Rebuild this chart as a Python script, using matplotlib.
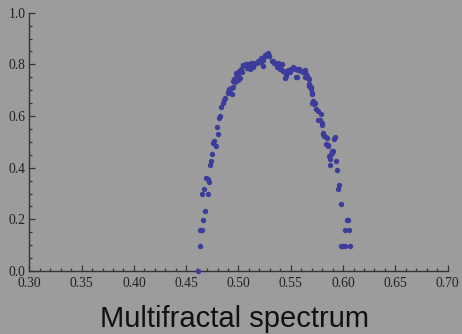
import numpy as np
import matplotlib
matplotlib.use("Agg")
import matplotlib.pyplot as plt
from matplotlib.ticker import MultipleLocator, FormatStrFormatter

# alpha (x) and f(alpha) (y)
alpha = [
    0.4613, 0.4632, 0.4628, 0.4648, 0.4661, 0.4680, 0.4651, 0.4711, 0.4670,
    0.4692, 0.4705, 0.4721, 0.4730, 0.4740, 0.4750, 0.4759, 0.4782, 0.4769,
    0.4801, 0.4792, 0.4811, 0.4823, 0.4833, 0.4849, 0.4861, 0.4871, 0.4903,
    0.4912, 0.4919, 0.4935, 0.4950, 0.4966, 0.4976, 0.4989, 0.4998, 0.5014,
    0.5031, 0.5046, 0.5072, 0.5078, 0.5110, 0.5126, 0.5148, 0.5174, 0.5205,
    0.5222, 0.5231, 0.5237, 0.5253, 0.5275, 0.5294, 0.5317, 0.5342, 0.5365,
    0.5371, 0.5397, 0.5413, 0.5428, 0.5454, 0.5454, 0.5476, 0.5492, 0.5524,
    0.5540, 0.5556, 0.5556, 0.5581, 0.5614, 0.5614, 0.5636, 0.5636, 0.5652,
    0.5667, 0.5674, 0.5690, 0.5700, 0.5705, 0.5715, 0.5700, 0.5731, 0.5725,
    0.5741, 0.5757, 0.5786, 0.5763, 0.5779, 0.5795, 0.5795, 0.5805, 0.5811,
    0.5817, 0.5837, 0.5843, 0.5916, 0.5923, 0.5837, 0.5853, 0.5859, 0.5897,
    0.5906, 0.5884, 0.5897, 0.5865, 0.5875, 0.5935, 0.5875, 0.5945, 0.5966,
    0.5954, 0.5977, 0.6034, 0.6050, 0.6021, 0.6056, 0.5983, 0.6002, 0.6015,
    0.6069,
    # extra points in the dense top band
    0.5279, 0.5256, 0.5295, 0.5215, 0.5225, 0.5184, 0.5152, 0.5120, 0.5098,
    0.5072, 0.5046, 0.5136, 0.5110, 0.5024, 0.5008, 0.4992, 0.4976, 0.4960,
    0.4945, 0.4928, 0.4912, 0.4897, 0.5327, 0.5352, 0.5375, 0.5390, 0.5406,
    0.5422, 0.5454, 0.5470, 0.5502, 0.5518, 0.5550, 0.5566, 0.5598, 0.5629,
    0.5645, 0.5448, 0.5550, 0.5661, 0.5677, 0.5677, 0.5693,
]
f_alpha = [
    0.000, 0.098, 0.158, 0.158, 0.199, 0.231, 0.299, 0.299, 0.317,
    0.359, 0.356, 0.346, 0.409, 0.426, 0.453, 0.494, 0.484, 0.504,
    0.530, 0.556, 0.591, 0.600, 0.636, 0.649, 0.662, 0.669, 0.694,
    0.703, 0.688, 0.684, 0.714, 0.733, 0.765, 0.752, 0.739, 0.748,
    0.772, 0.798, 0.801, 0.785, 0.798, 0.789, 0.801, 0.806, 0.810,
    0.823, 0.795, 0.817, 0.832, 0.840, 0.832, 0.814, 0.806, 0.801,
    0.789, 0.781, 0.801, 0.775, 0.768, 0.755, 0.772, 0.772, 0.791,
    0.782, 0.781, 0.752, 0.781, 0.775, 0.772, 0.778, 0.752, 0.755,
    0.748, 0.723, 0.714, 0.688, 0.684, 0.658, 0.649, 0.649, 0.645,
    0.627, 0.619, 0.608, 0.585, 0.585, 0.572, 0.565, 0.533, 0.530,
    0.523, 0.518, 0.514, 0.511, 0.518, 0.492, 0.488, 0.484, 0.466,
    0.465, 0.453, 0.458, 0.446, 0.432, 0.426, 0.409, 0.391, 0.333,
    0.317, 0.258, 0.199, 0.199, 0.158, 0.158, 0.098, 0.098, 0.098,
    0.098,
    0.845, 0.835, 0.833, 0.826, 0.813, 0.813, 0.806, 0.804, 0.800,
    0.800, 0.796, 0.791, 0.783, 0.781, 0.774, 0.761, 0.752, 0.742,
    0.736, 0.710, 0.697, 0.691, 0.813, 0.806, 0.804, 0.796, 0.783,
    0.774, 0.771, 0.778, 0.781, 0.787, 0.783, 0.778, 0.774, 0.771,
    0.762, 0.748, 0.752, 0.748, 0.742, 0.716, 0.703,
]

bg = "#9c9c9c"
fig = plt.figure(figsize=(4.62, 3.34), dpi=100, facecolor=bg)
ax = fig.add_axes([0.0634, 0.1886, 0.9055, 0.7734])
ax.set_facecolor(bg)

ax.scatter(alpha, f_alpha, s=15, color="#3c3c9a", linewidths=0, zorder=3, clip_on=False)

ax.set_xlim(0.30, 0.70)
ax.set_ylim(0.0, 1.0)

for side in ["top", "right"]:
    ax.spines[side].set_visible(False)
for side in ["left", "bottom"]:
    ax.spines[side].set_color("#333333")
    ax.spines[side].set_linewidth(1.0)

ax.xaxis.set_major_locator(MultipleLocator(0.05))
ax.xaxis.set_minor_locator(MultipleLocator(0.01))
ax.yaxis.set_major_locator(MultipleLocator(0.2))
ax.yaxis.set_minor_locator(MultipleLocator(0.05))
ax.xaxis.set_major_formatter(FormatStrFormatter("%.2f"))
ax.yaxis.set_major_formatter(FormatStrFormatter("%.1f"))

ax.tick_params(which="both", direction="in", color="#333333", width=0.9,
               labelsize=9.8, labelcolor="#222222")
ax.tick_params(axis="x", pad=4.5)
ax.tick_params(axis="y", pad=2.5)
ax.tick_params(which="major", length=4)
ax.tick_params(which="minor", length=2.5)
for lab in ax.get_xticklabels() + ax.get_yticklabels():
    lab.set_fontfamily("Liberation Serif")

fig.text(0.508, 0.022, "Multifractal spectrum", ha="center", va="baseline",
         fontsize=21, family="Liberation Sans", color="#111111")

fig.savefig("out.png", dpi=100, facecolor=bg)
